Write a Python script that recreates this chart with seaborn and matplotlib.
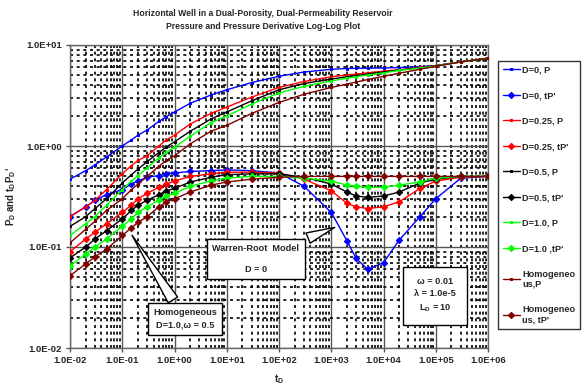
import matplotlib
matplotlib.use("Agg")
import matplotlib.pyplot as plt
from matplotlib.ticker import FuncFormatter, LogLocator, NullFormatter
import seaborn as sns
import pandas as pd

# Dimensionless time
t_d = [0.01, 0.02, 0.03, 0.05, 0.1, 0.15, 0.2, 0.3, 0.5, 0.7, 1, 2, 5, 10, 30,
       100, 300, 1000, 2000, 3000, 5000, 1e4, 2e4, 5e4, 1e5, 3e5, 1e6]

# Dimensionless pressure
p_d0 = [0.47, 0.57, 0.65, 0.78, 1.0, 1.15, 1.28, 1.44, 1.75, 1.95, 2.17, 2.65, 3.2, 3.6, 4.25,
        4.9, 5.4, 5.75, 5.85, 5.88, 5.9, 5.92, 5.98, 6.1, 6.25, 6.8, 7.4]
p_d025 = [0.2, 0.25, 0.29, 0.37, 0.53, 0.64, 0.72, 0.8, 1.0, 1.15, 1.28, 1.65, 2.1, 2.43, 3.05,
          3.8, 4.35, 4.85, 5.05, 5.15, 5.3, 5.5, 5.7, 6.0, 6.25, 6.8, 7.4]
p_d05 = [0.16, 0.2, 0.24, 0.3, 0.43, 0.52, 0.59, 0.7, 0.86, 0.98, 1.1, 1.4, 1.85, 2.17, 2.8,
         3.6, 4.15, 4.6, 4.85, 4.98, 5.15, 5.4, 5.65, 5.95, 6.22, 6.8, 7.4]
p_d10 = [0.13, 0.17, 0.2, 0.26, 0.37, 0.45, 0.51, 0.61, 0.76, 0.87, 0.97, 1.25, 1.7, 1.98, 2.6,
         3.35, 3.9, 4.4, 4.7, 4.85, 5.05, 5.3, 5.6, 5.92, 6.2, 6.8, 7.4]
p_hom = [0.11, 0.15, 0.18, 0.23, 0.3, 0.37, 0.42, 0.5, 0.63, 0.72, 0.8, 1.05, 1.4, 1.6, 2.1,
         2.7, 3.25, 3.8, 4.1, 4.3, 4.55, 4.9, 5.25, 5.75, 6.15, 6.8, 7.4]

# Pressure derivative t*dP/dt
dp_d0 = [0.2, 0.25, 0.29, 0.33, 0.37, 0.42, 0.45, 0.49, 0.51, 0.53, 0.54, 0.56, 0.57, 0.58, 0.57,
         0.54, 0.4, 0.22, 0.115, 0.077, 0.06, 0.07, 0.117, 0.2, 0.3, 0.48, 0.5]
dp_d025 = [0.09, 0.12, 0.14, 0.17, 0.22, 0.26, 0.3, 0.34, 0.39, 0.42, 0.45, 0.5, 0.53, 0.55, 0.55,
           0.54, 0.47, 0.36, 0.27, 0.25, 0.24, 0.25, 0.28, 0.38, 0.45, 0.49, 0.5]
dp_d05 = [0.078, 0.1, 0.12, 0.145, 0.19, 0.23, 0.26, 0.29, 0.33, 0.36, 0.38, 0.44, 0.49, 0.52, 0.53,
          0.53, 0.49, 0.42, 0.35, 0.32, 0.31, 0.32, 0.35, 0.43, 0.47, 0.5, 0.5]
dp_d10 = [0.065, 0.085, 0.1, 0.12, 0.16, 0.19, 0.22, 0.25, 0.29, 0.32, 0.34, 0.4, 0.45, 0.48, 0.5,
          0.5, 0.48, 0.45, 0.41, 0.4, 0.39, 0.39, 0.41, 0.44, 0.48, 0.5, 0.5]
dp_hom = [0.052, 0.068, 0.08, 0.095, 0.13, 0.155, 0.175, 0.2, 0.25, 0.28, 0.3, 0.35, 0.41, 0.44, 0.47,
          0.49, 0.5, 0.5, 0.5, 0.5, 0.5, 0.5, 0.5, 0.5, 0.5, 0.5, 0.5]

series = [
    ("D=0, P", p_d0, "#0000FF", "_"),
    ("D=0, tP'", dp_d0, "#0000FF", "D"),
    ("D=0.25, P", p_d025, "#FF0000", "_"),
    ("D=0.25, tP'", dp_d025, "#FF0000", "D"),
    ("D=0.5, P", p_d05, "#000000", "_"),
    ("D=0.5, tP'", dp_d05, "#000000", "D"),
    ("D=1.0, P", p_d10, "#00FF00", "_"),
    ("D=1.0 ,tP'", dp_d10, "#00FF00", "D"),
    ("Homogeneo\nus,P", p_hom, "#800000", "_"),
    ("Homogeneo\nus, tP'", dp_hom, "#800000", "D"),
]

sns.set_style("white")
plt.rcParams["font.family"] = ["Liberation Sans", "DejaVu Sans"]
plt.rcParams["font.weight"] = "bold"
plt.rcParams["mathtext.fontset"] = "custom"
plt.rcParams["mathtext.rm"] = "Liberation Sans:bold"
plt.rcParams["mathtext.it"] = "Liberation Sans:bold"
plt.rcParams["mathtext.bf"] = "Liberation Sans:bold"

W, H = 584, 386
fig = plt.figure(figsize=(W / 100, H / 100), dpi=100)
x0, x1, y0, y1 = 70, 488, 45, 348
ax = fig.add_axes([x0 / W, 1 - y1 / H, (x1 - x0) / W, (y1 - y0) / H])

for label, vals, color, mk in series:
    df = pd.DataFrame({"t": t_d, "v": vals})
    if mk == "D":
        sns.lineplot(data=df, x="t", y="v", ax=ax, color=color, marker="D",
                     markersize=3.2, markeredgecolor=color, linewidth=1.0,
                     linestyle="-", dashes=False, label=label, sort=True, zorder=3)
    else:
        sns.lineplot(data=df, x="t", y="v", ax=ax, color=color, marker="s",
                     markersize=2.0, markeredgecolor=color, linewidth=1.0,
                     linestyle="-", dashes=False, label=label, sort=True, zorder=3)

ax.set_xscale("log")
ax.set_yscale("log")
ax.set_xlim(1e-2, 1e6)
ax.set_ylim(1e-2, 1e1)

ax.xaxis.set_major_locator(LogLocator(base=10, numticks=20))
ax.yaxis.set_major_locator(LogLocator(base=10, numticks=20))
ax.xaxis.set_minor_locator(LogLocator(base=10, subs=range(2, 10), numticks=100))
ax.yaxis.set_minor_locator(LogLocator(base=10, subs=range(2, 10), numticks=100))
fmt = FuncFormatter(lambda v, p: f"{v:.1E}")
ax.xaxis.set_major_formatter(fmt)
ax.yaxis.set_major_formatter(fmt)
ax.xaxis.set_minor_formatter(NullFormatter())
ax.yaxis.set_minor_formatter(NullFormatter())
ax.tick_params(which="major", direction="out", length=3, width=1, color="#555555",
               labelsize=6.8, pad=3, left=True, bottom=True)
ax.tick_params(which="minor", length=0)
for lab in ax.get_xticklabels() + ax.get_yticklabels():
    lab.set_fontweight("bold")

ax.grid(which="major", color="#555555", linewidth=1.0, linestyle="-", zorder=0)
ax.grid(which="minor", color="black", linewidth=1.2, linestyle=(0, (1.8, 2.2)), zorder=0)
ax.set_axisbelow(True)
for s in ax.spines.values():
    s.set_color("#666666")
    s.set_linewidth(1.0)

ax.set_xlabel("t$_D$", fontsize=7, fontweight="bold", labelpad=5)
ax.set_ylabel("P$_D$ and t$_D$P$_D$'", fontsize=7, fontweight="bold", labelpad=6)

fig.text(263 / W, 1 - 20 / H,
         "Horizontal Well in a Dual-Porosity, Dual-Permeability Reservoir\n"
         "Pressure and Pressure Derivative Log-Log Plot",
         ha="center", va="center", fontsize=6.2, fontweight="bold", linespacing=1.45)

# Callout boxes
def axfrac(px, py):
    return ((px - x0) / (x1 - x0), (y1 - py) / (y1 - y0))

box = dict(boxstyle="square,pad=0.6", fc="white", ec="black", lw=1.0)
ax.annotate("Warren-Root  Model\n\nD = 0", xy=(1300, 0.16), xycoords="data",
            xytext=axfrac(256, 259), textcoords="axes fraction",
            ha="center", va="center", fontsize=6.6, fontweight="bold", bbox=box,
            arrowprops=dict(arrowstyle="wedge,tail_width=1.2,shrink_factor=0.5",
                            fc="white", ec="black", lw=1.0), zorder=5)
ax.annotate("Homogeneous\nD=1.0,\u03c9 = 0.5", xy=(0.144, 0.138), xycoords="data",
            xytext=axfrac(185, 319), textcoords="axes fraction",
            ha="center", va="center", fontsize=6.6, fontweight="bold", bbox=box,
            linespacing=1.5,
            arrowprops=dict(arrowstyle="wedge,tail_width=1.2,shrink_factor=0.5",
                            fc="white", ec="black", lw=1.0), zorder=5)
ax.text(*axfrac(435, 295), "\u03c9 = 0.01\n\u03bb = 1.0e-5\nL$_D$ = 10",
        transform=ax.transAxes, ha="center", va="center", fontsize=6.6,
        fontweight="bold", linespacing=1.5,
        bbox=dict(boxstyle="square,pad=1.2", fc="white", ec="black", lw=1.0), zorder=5)

handles, labels = ax.get_legend_handles_labels()
ax.get_legend().remove()
leg = fig.legend(handles, labels, loc="upper left", bbox_to_anchor=(498 / W, 1 - 61 / H),
                 frameon=True, fancybox=False, edgecolor="black", fontsize=6.6,
                 handlelength=1.9, handletextpad=0.25, labelspacing=1.8,
                 borderpad=0.5, borderaxespad=0)
leg.get_frame().set_linewidth(1.0)
for txt in leg.get_texts():
    txt.set_fontweight("bold")
    txt.set_linespacing(1.15)

fig.savefig("out.png", dpi=100, facecolor="white")
